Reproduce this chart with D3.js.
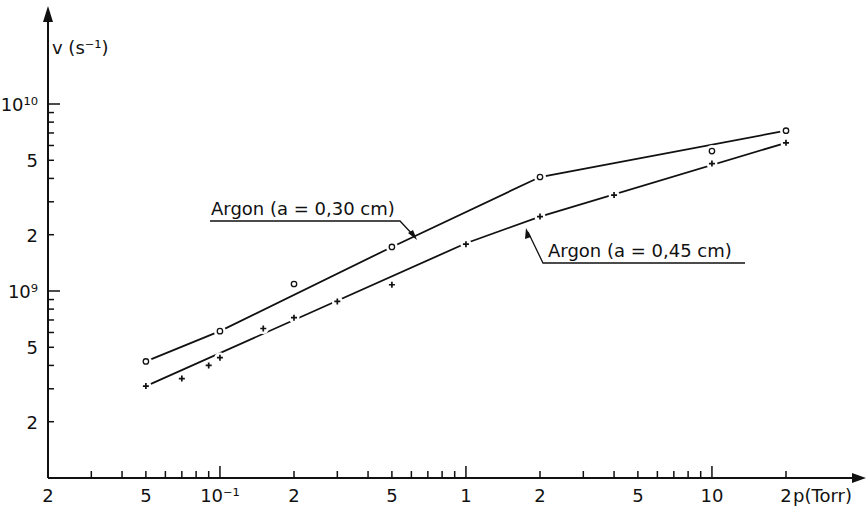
<!DOCTYPE html>
<html><head><meta charset="utf-8">
<script src="https://cdn.jsdelivr.net/npm/d3@7"></script>
<style>body{margin:0;background:#fff}svg{font-family:"DejaVu Sans",sans-serif}</style>
</head><body><svg width="867" height="507"></svg>
<script>
const p030 = [0.05, 0.1, 0.2, 0.5, 2, 10, 20];
const v030 = [4.2e8, 6.1e8, 1.09e9, 1.72e9, 4.07e9, 5.6e9, 7.2e9];
const line030P = [0.05, 0.1, 0.5, 2, 20];
const line030V = [4.2e8, 6.1e8, 1.72e9, 4.07e9, 7.2e9];
const p045 = [0.05, 0.07, 0.09, 0.1, 0.15, 0.2, 0.3, 0.5, 1, 2, 4, 10, 20];
const v045 = [3.1e8, 3.4e8, 4.0e8, 4.4e8, 6.3e8, 7.2e8, 8.8e8, 1.08e9, 1.78e9, 2.5e9, 3.26e9, 4.8e9, 6.2e9];
const line045P = [0.05, 1, 2, 20];
const line045V = [3.1e8, 1.8e9, 2.5e9, 6.2e9];
const xTickVals = [0.02,0.03,0.04,0.05,0.06,0.07,0.08,0.09,0.1,0.2,0.3,0.4,0.5,0.6,0.7,0.8,0.9,1,2,3,4,5,6,7,8,9,10,20];
const xLabels = [[0.02,"2"],[0.05,"5"],[0.1,"10⁻¹"],[0.2,"2"],[0.5,"5"],[1,"1"],[2,"2"],[5,"5"],[10,"10"],[20,"2"]];
const yTickVals = [2e8,3e8,4e8,5e8,6e8,7e8,8e8,9e8,1e9,2e9,3e9,4e9,5e9,6e9,7e9,8e9,9e9,1e10];
const yLabels = [[2e8,"2"],[5e8,"5"],[1e9,"10⁹"],[2e9,"2"],[5e9,"5"],[1e10,"10¹⁰"]];

const svg = d3.select("svg");
const x = d3.scaleLog().domain([0.02, 20]).range([48, 786]);
const y = d3.scaleLog().domain([1e8, 1e10]).range([478, 104]);
const ink = "#111";
const fs = 18;

svg.append("line").attr("x1",48).attr("y1",478).attr("x2",855).attr("y2",478).attr("stroke",ink).attr("stroke-width",2);
svg.append("path").attr("d","M866,478 L852,473 L852,483Z").attr("fill",ink);
svg.append("line").attr("x1",48).attr("y1",478).attr("x2",48).attr("y2",18).attr("stroke",ink).attr("stroke-width",2);
svg.append("path").attr("d","M48,6 L43,22 L53,22Z").attr("fill",ink);

const major = v => [0.1,1,10].includes(v);
svg.selectAll(".xt").data(xTickVals.filter(v=>v>0.02)).join("line")
  .attr("x1",d=>x(d)).attr("x2",d=>x(d)).attr("y1",478).attr("y2",d=>major(d)?466:471)
  .attr("stroke",ink).attr("stroke-width",1.5);
svg.selectAll(".xl").data(xLabels).join("text")
  .attr("x",d=>x(d[0])).attr("y",502).attr("text-anchor","middle")
  .attr("font-size",fs).attr("fill",ink).text(d=>d[1]);
svg.append("text").attr("x",x(20)+7).attr("y",502).attr("font-size",fs).attr("fill",ink).text("p(Torr)");

svg.selectAll(".yt").data(yTickVals).join("line")
  .attr("x1",48).attr("x2",d=>(d===1e9||d===1e10)?60:54).attr("y1",d=>y(d)).attr("y2",d=>y(d))
  .attr("stroke",ink).attr("stroke-width",1.5);
svg.selectAll(".yl").data(yLabels).join("text")
  .attr("x",38).attr("y",d=>y(d[0])+7).attr("text-anchor","end")
  .attr("font-size",fs).attr("fill",ink).text(d=>d[1]);
svg.append("text").attr("x",52).attr("y",54).attr("font-size",fs).attr("fill",ink).text("v (s⁻¹)");

const lg = d3.line().x(d=>x(d[0])).y(d=>y(d[1]));
svg.append("path").attr("d",lg(d3.zip(line030P,line030V))).attr("fill","none").attr("stroke",ink).attr("stroke-width",1.8);
svg.append("path").attr("d",lg(d3.zip(line045P,line045V))).attr("fill","none").attr("stroke",ink).attr("stroke-width",1.8);

svg.selectAll(".c").data(d3.zip(p030,v030)).join("circle")
  .attr("cx",d=>x(d[0])).attr("cy",d=>y(d[1])).attr("r",6).attr("fill","#fff");
svg.selectAll(".c2").data(d3.zip(p030,v030)).join("circle")
  .attr("cx",d=>x(d[0])).attr("cy",d=>y(d[1])).attr("r",2.7).attr("fill","#fff").attr("stroke",ink).attr("stroke-width",1.3);
svg.selectAll(".k").data(d3.zip(p045,v045)).join("circle")
  .attr("cx",d=>x(d[0])).attr("cy",d=>y(d[1])).attr("r",5.5).attr("fill","#fff");
svg.selectAll(".k2").data(d3.zip(p045,v045)).join("path")
  .attr("d",d=>{const a=x(d[0]),b=y(d[1]);return `M${a-3},${b}H${a+3}M${a},${b-3}V${b+3}`;})
  .attr("stroke",ink).attr("stroke-width",1.7);

svg.append("text").attr("x",211).attr("y",215).attr("font-size",fs).attr("fill",ink).text("Argon (a = 0,30 cm)");
svg.append("path").attr("d","M210,221 H400 L414,236").attr("fill","none").attr("stroke",ink).attr("stroke-width",1.3);
svg.append("path").attr("d","M417,240 L408,233 L413,230Z").attr("fill",ink);
svg.append("text").attr("x",548).attr("y",257).attr("font-size",fs).attr("fill",ink).text("Argon (a = 0,45 cm)");
svg.append("path").attr("d","M745,263 H543 L528,232").attr("fill","none").attr("stroke",ink).attr("stroke-width",1.3);
svg.append("path").attr("d","M526,228 L525,239 L531,237Z").attr("fill",ink);
</script></body></html>
